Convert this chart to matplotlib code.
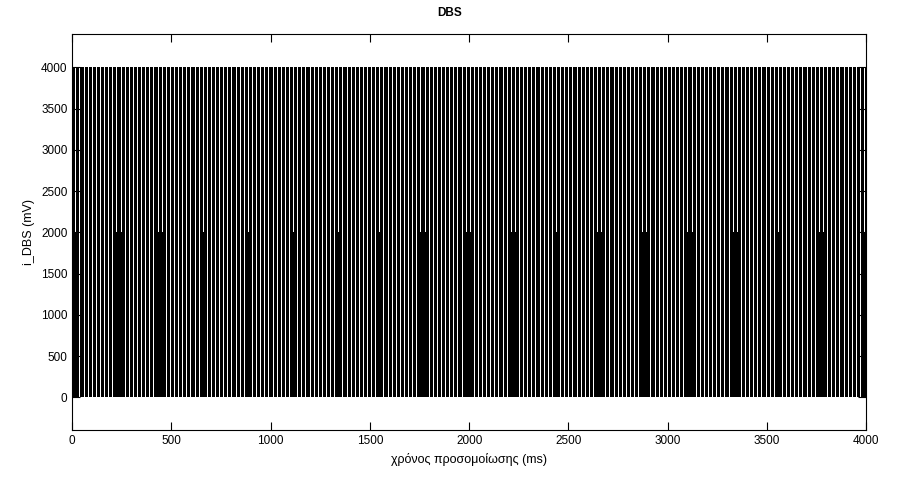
"""
DBS pulse train
"""

import numpy as np
import matplotlib
matplotlib.use("Agg")
import matplotlib.pyplot as plt

# stimulus
pulse_period = 20.7      # ms between pulses
pulse_gap = 5.04         # ms the signal drops between pulses
pulse_amp = 4000         # mV
burst_amp = 2000         # mV during bursts
burst_len = 30           # ms
burst_times = [0, 217, 434, 646, 873, 1100, 1327, 1538, 1755, 1982, 2209,
               2426, 2648, 2865, 3092, 3319, 3546, 3763, 3980]
t_end = 4000

x_ticks = [0, 500, 1000, 1500, 2000, 2500, 3000, 3500, 4000]
y_ticks = [0, 500, 1000, 1500, 2000, 2500, 3000, 3500, 4000]

plt.rcParams['font.family'] = ['Liberation Sans', 'DejaVu Sans']

fig = plt.figure(figsize=(9, 4.8), dpi=100)
ax = fig.add_axes([0.0803, 0.1035, 0.882, 0.825])

starts = np.arange(0, t_end, pulse_period)
widths = np.minimum(pulse_period - pulse_gap, t_end - starts)
ax.bar(starts, pulse_amp, widths, align="edge", color="black",
       linewidth=0, antialiased=False)

# gaps that stay at the burst level
gap_starts = starts + pulse_period - pulse_gap
filled = [g for g in gap_starts
          if any(b - pulse_gap <= g <= b + burst_len for b in burst_times) and g < t_end]
ax.bar(filled, burst_amp, pulse_gap, align="edge", color="black",
       linewidth=0, antialiased=False)

ax.set_xlim(0, 4000)
ax.set_ylim(-400, 4400)
ax.set_xticks(x_ticks)
ax.set_yticks(y_ticks)
ax.tick_params(direction="in", top=True, right=True, labelsize=8.5, length=5.5)
ax.set_title("DBS", fontsize=8.5, fontweight="bold", x=0.475, pad=13)
ax.set_xlabel("χρόνος προσομοίωσης (ms)", fontsize=9)
ax.set_ylabel("i_DBS (mV)", fontsize=9)

fig.savefig("out.png", dpi=100)
